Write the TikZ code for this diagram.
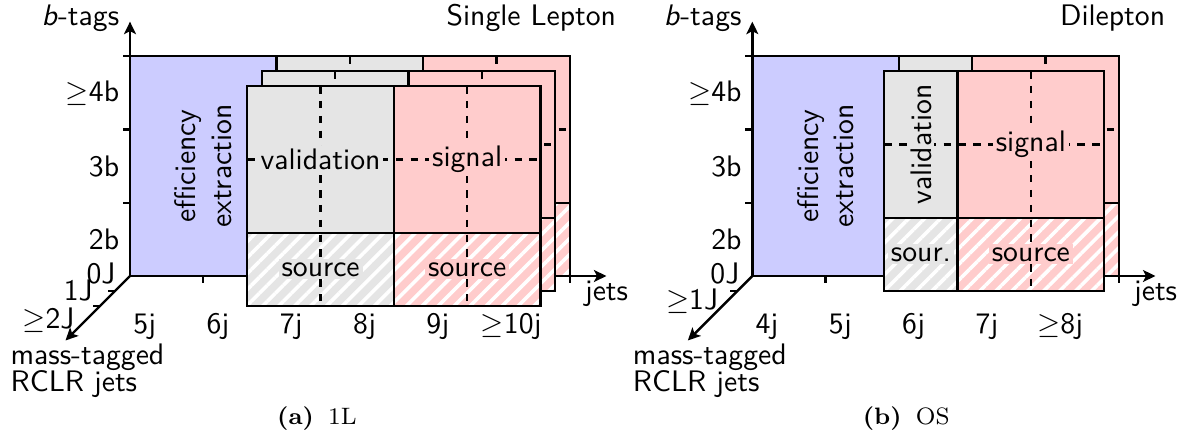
\documentclass[tikz,border=0pt]{standalone}
\usepackage{fontspec}
\usetikzlibrary{arrows.meta, calc, patterns.meta}
\definecolor{zonaEff}{RGB}{204,204,255}
\definecolor{zonaVal}{RGB}{229,229,229}
\definecolor{zonaSig}{RGB}{255,204,204}

\begin{document}
\begin{tikzpicture}[x=0.8675cm, y=0.8675cm, font=\sffamily,
    eje/.style={thick, -{Stealth[length=4.2pt, width=4pt, inset=1pt]}},
    borde/.style={thick},
    corte/.style={thick, dash pattern=on 2.5pt off 2.5pt},
    rayado/.style={pattern={Lines[angle=45, distance=3.8pt, line width=1.2pt]}, pattern color=white},
    etq/.style={inner sep=0pt},
    celda/.style={inner sep=1pt},
    pie/.style={anchor=base, font=\rmfamily\fontsize{8}{10}\selectfont}]
    % Parámetros
    \def\dx{-0.2}    % desplazamiento en profundidad, x
    \def\dy{-0.205}  % desplazamiento en profundidad, y
    \def\xb{8.49}    % origen del segundo panel
    \def\sl{0.365}   % salto entre las dos líneas del eje diagonal

    \useasboundingbox (-1.7735,-2.251) rectangle (14.338,3.765);

    % ================= (a) 1L =================
    % 1. EJES Y MARCAS
    \coordinate (oA) at (0,0);
    \coordinate (yA) at (0,3.47);
    \coordinate (xA) at (6.5,0);
    \coordinate (zA) at (-0.88,-0.88);
    \foreach \i in {1,...,6} \draw[borde] (\i,0) -- (\i,-0.1);
    \foreach \j in {1,2,3} \draw[borde] (0,\j) -- (-0.1,\j);
    \draw[eje] (oA) -- (yA);
    \draw[eje] (oA) -- (xA);
    \draw[eje] (oA) -- (zA);
    \foreach \k in {1,2} \draw[borde] (\k*\dx,\k*\dy) -- ++(-0.1,0);

    % 2. REGIÓN DE EFICIENCIA
    \filldraw[fill=zonaEff, borde] (0,0) rectangle (2,3);
    \node[align=center, rotate=90] (effA) at (1,1.5) {efficiency\\extraction};

    % 3. CAPAS (0J, 1J, >=2J)
    \foreach \k in {0,1,2} {
      \begin{scope}[shift={(\k*\dx,\k*\dy)}]
        \fill[zonaVal] (2,0) rectangle (4,3);
        \fill[zonaSig] (4,0) rectangle (6,3);
        \fill[rayado] (2,0) rectangle (6,1);
        \draw[corte] (3,3) -- (3,0) (5,3) -- (5,0) (2,2) -- (6,2);
        \draw[borde] (2,0) rectangle (6,3) (4,0) -- (4,3) (2,1) -- (6,1);
      \end{scope}
    }

    % 4. ETIQUETAS DE LA CAPA FRONTAL
    \begin{scope}[shift={(2*\dx,2*\dy)}]
      \node[celda, fill=zonaVal] (valA) at (3,2) {validation};
      \node[celda, fill=zonaSig] (sigA) at (5,2) {signal};
      \node[celda, fill=zonaVal] (srcA) at (3,0.5) {source};
      \node[celda, fill=zonaSig] (srcA2) at (5,0.5) {source};
    \end{scope}

    % 5. TEXTOS DE LOS EJES
    \node[etq, anchor=base east] (btA) at (-0.14,3.42) {\textit{b}-tags};
    \node[etq, anchor=base east] (titA) at (6.64,3.42) {Single Lepton};
    \node[etq, anchor=east] (b4A) at (-0.14,2.5) {$\geq$4b};
    \node[etq, anchor=east] (b3A) at (-0.14,1.5) {3b};
    \node[etq, anchor=east] (b2A) at (-0.14,0.5) {2b};
    \foreach \t [count=\i from 0] in {5j,6j,7j,8j,9j,$\geq$10j}
      \node[etq, anchor=base] (nA\i) at (\i+0.2,-0.79) {\t};
    \node[etq, anchor=base] (jetsA) at (6.5,-0.33) {jets};
    \node[etq, anchor=east] (J0A) at (-0.19,0.04) {0J};
    \node[etq, anchor=east] (J1A) at (-0.5,-0.2) {1J};
    \node[etq, anchor=east] (J2A) at (-0.75,-0.6) {$\geq$2J};
    \node[etq, anchor=base west] (mtA) at (-1.637,-1.214) {mass-tagged};
    \node[etq, anchor=base west] (rcA) at ($(mtA.base west)+(0,-\sl)$) {RCLR jets};
    \node[pie] (capA) at (2.55,-2.02) {\textbf{(a)}\hspace{0.6em}1L};

    % ================= (b) OS =================
    \begin{scope}[shift={(\xb,0)}]
      % 1. EJES Y MARCAS
      \coordinate (oB) at (0,0);
      \coordinate (yB) at (0,3.47);
      \coordinate (xB) at (5.5,0);
      \coordinate (zB) at (-0.88,-0.88);
      \foreach \i in {1,...,5} \draw[borde] (\i,0) -- (\i,-0.1);
      \foreach \j in {1,2,3} \draw[borde] (0,\j) -- (-0.1,\j);
      \draw[eje] (oB) -- (yB);
      \draw[eje] (oB) -- (xB);
      \draw[eje] (oB) -- (zB);
      \draw[borde] (\dx,\dy) -- ++(-0.1,0);

      % 2. REGIÓN DE EFICIENCIA
      \filldraw[fill=zonaEff, borde] (0,0) rectangle (2,3);
      \node[align=center, rotate=90] (effB) at (1,1.5) {efficiency\\extraction};

      % 3. CAPAS (0J, >=1J)
      \foreach \k in {0,1} {
        \begin{scope}[shift={(\k*\dx,\k*\dy)}]
          \fill[zonaVal] (2,0) rectangle (3,3);
          \fill[zonaSig] (3,0) rectangle (5,3);
          \fill[rayado] (2,0) rectangle (5,1);
          \draw[corte] (4,3) -- (4,0) (2,2) -- (5,2);
          \draw[borde] (2,0) rectangle (5,3) (3,0) -- (3,3) (2,1) -- (5,1);
        \end{scope}
      }

      % 4. ETIQUETAS DE LA CAPA FRONTAL
      \begin{scope}[shift={(\dx,\dy)}]
        \node[celda, fill=zonaVal, rotate=90] (valB) at (2.5,2) {validation};
        \node[celda, fill=zonaSig] (sigB) at (4,2) {signal};
        \node[celda, fill=zonaVal] (srcB) at (2.5,0.5) {sour.};
        \node[celda, fill=zonaSig] (srcB2) at (4,0.5) {source};
      \end{scope}

      % 5. TEXTOS DE LOS EJES
      \node[etq, anchor=base east] (btB) at (-0.14,3.42) {\textit{b}-tags};
      \node[etq, anchor=base east] (titB) at (5.64,3.42) {Dilepton};
      \node[etq, anchor=east] (b4B) at (-0.14,2.5) {$\geq$4b};
      \node[etq, anchor=east] (b3B) at (-0.14,1.5) {3b};
      \node[etq, anchor=east] (b2B) at (-0.14,0.5) {2b};
      \foreach \t [count=\i from 0] in {4j,5j,6j,7j,$\geq$8j}
        \node[etq, anchor=base] (nB\i) at (\i+0.2,-0.79) {\t};
      \node[etq, anchor=base] (jetsB) at (5.5,-0.33) {jets};
      \node[etq, anchor=east] (J0B) at (-0.17,0.04) {0J};
      \node[etq, anchor=east] (J1B) at (-0.46,-0.34) {$\geq$1J};
      \node[etq, anchor=base west] (mtB) at (-1.637,-1.214) {mass-tagged};
      \node[etq, anchor=base west] (rcB) at ($(mtB.base west)+(0,-\sl)$) {RCLR jets};
      \node[pie] (capB) at (2.1,-2.02) {\textbf{(b)}\hspace{0.6em}OS};
    \end{scope}
\end{tikzpicture}
\end{document}
